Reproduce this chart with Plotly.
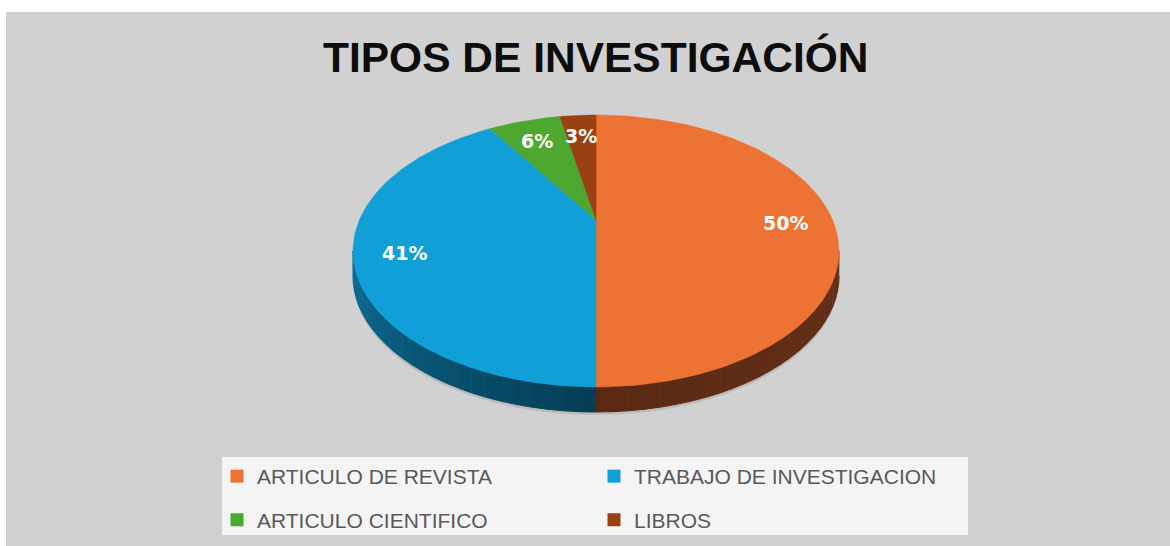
import numpy as np
import plotly.graph_objects as go

# ---------------- data ----------------
title_text = "TIPOS DE INVESTIGACIÓN"
categories = ["ARTICULO DE REVISTA", "TRABAJO DE INVESTIGACION", "ARTICULO CIENTIFICO", "LIBROS"]
values = [50, 41, 6, 3]  # percent

# ---------------- style ----------------
colors = ["#EC7333", "#10A0D7", "#4EA72E", "#9A4114"]
side_colors = [("#66301A", "#5A2912"), ("#053D55", "#0C6F98"), ("#2D6A1A", "#2D6A1A"), ("#5A250B", "#5A250B")]
W, H = 1170, 546
ML, MT = 6, 12
BG = "#D1D1D1"
# outline ellipse (screen px): centre x, centre y, half width, half height; extrusion depth
CX, EY, EW, EH, DEPTH = 596, 251, 243, 136, 25
K = 0.23  # perspective strength
A = EW * np.sqrt(1 - K ** 2)
B = EH * (1 - K ** 2)
YC = EY - EH * K  # projected disk centre


def px2paper(x, y):
    return (x - ML) / (W - ML), 1 - (y - MT) / (H - MT)


def proj(X, Z, dy=0.0):
    d = 1 + K * Z
    return CX + A * X / d, YC - B * Z / d + dy


def pt(theta_deg, dy=0.0, r=1.0):
    t = np.radians(theta_deg)
    return proj(r * np.sin(t), r * np.cos(t), dy)


def hex2rgb(h):
    h = h.lstrip("#")
    return [int(h[i:i + 2], 16) for i in (0, 2, 4)]


def mix(c1, c2, f):
    a, b = hex2rgb(c1), hex2rgb(c2)
    return "rgb({},{},{})".format(*[round(a[i] + (b[i] - a[i]) * f) for i in range(3)])


total = float(sum(values))
bounds = np.concatenate([[0.0], np.cumsum(values) / total * 360.0])
sil = np.degrees(np.arccos(-K))  # silhouette angle (right); left is 360 - sil

fig = go.Figure()

# soft shadow under the pie
ts = np.linspace(0, 360, 181)
sx, sy = pt(ts, DEPTH + 3)
fig.add_trace(go.Scatter(x=sx, y=sy, fill="toself", mode="lines",
                         line=dict(width=0, color="rgba(0,0,0,0)"),
                         fillcolor="rgba(0,0,0,0.10)", hoverinfo="skip", showlegend=False))

# sides (front part only)
for i, v in enumerate(values):
    a1, a2 = bounds[i], bounds[i + 1]
    lo, hi = max(a1, sil), min(a2, 360 - sil)
    if lo >= hi:
        continue
    n = max(1, int((hi - lo) / 3))
    edges = np.linspace(lo, hi, n + 1)
    for k in range(n):
        s, e = edges[k], edges[k + 1]
        tt = np.linspace(s, e, 6)
        tx, ty = pt(tt)
        bx, by = pt(tt[::-1], DEPTH)
        col = mix(side_colors[i][0], side_colors[i][1], (k + 0.5) / n)
        fig.add_trace(go.Scatter(x=np.concatenate([tx, bx]), y=np.concatenate([ty, by]),
                                 fill="toself", mode="lines", line=dict(width=1, color=col),
                                 fillcolor=col, hoverinfo="skip", showlegend=False))

# top faces
for i, v in enumerate(values):
    a1, a2 = bounds[i], bounds[i + 1]
    tt = np.linspace(a1, a2, max(3, int(a2 - a1) + 2))
    tx, ty = pt(tt)
    cx0, cy0 = proj(0.0, 0.0)
    fig.add_trace(go.Scatter(x=np.concatenate([[cx0], tx, [cx0]]), y=np.concatenate([[cy0], ty, [cy0]]),
                             fill="toself", mode="lines", line=dict(width=0.5, color=colors[i]),
                             fillcolor=colors[i], name=categories[i],
                             hovertemplate=categories[i] + ": %{text}<extra></extra>",
                             text=[f"{v}%"] * (len(tx) + 2), showlegend=False))

# data labels
for i, v in enumerate(values):
    mid = (bounds[i] + bounds[i + 1]) / 2
    lx, ly = pt(mid, 3, r=0.8)
    fig.add_annotation(x=lx, y=ly, text=f"{v}%", showarrow=False,
                       font=dict(family="DejaVu Sans", size=19, color="white", weight="bold"),
                       xanchor="center", yanchor="middle")

# legend entries (two legends -> two rows)
for i, c in enumerate(categories):
    fig.add_trace(go.Scatter(x=[None], y=[None], mode="markers", name=c,
                             marker=dict(symbol="square", size=13, color=colors[i]),
                             legend="legend" if i < 2 else "legend2", showlegend=True))

legend_common = dict(orientation="h", xref="paper", yref="paper",
                     xanchor="left", yanchor="middle", bgcolor="rgba(0,0,0,0)",
                     font=dict(family="Arial", size=21, color="#595959"),
                     entrywidth=332, entrywidthmode="pixels", itemclick=False, itemdoubleclick=False)

l1x, l1y = px2paper(217, 476.5)
l2x, l2y = px2paper(217, 520)
tx_, ty_ = px2paper(595.5, 57)

fig.update_layout(
    width=W, height=H,
    paper_bgcolor="white", plot_bgcolor=BG,
    margin=dict(l=ML, r=0, t=MT, b=0, autoexpand=False),
    xaxis=dict(range=[ML, W], visible=False, fixedrange=True),
    yaxis=dict(range=[H, MT], visible=False, fixedrange=True),
    annotations=list(fig.layout.annotations) + [
        dict(text=title_text, x=tx_, y=ty_, xref="paper", yref="paper", showarrow=False,
             xanchor="center", yanchor="middle",
             font=dict(family="Arial", size=42.5, color="#0D0D0D", weight="bold"))],
    legend=dict(x=l1x, y=l1y, **legend_common),
    legend2=dict(x=l2x, y=l2y, **legend_common),
    shapes=[dict(type="rect", xref="x", yref="y", x0=222, x1=968, y0=457, y1=535,
                 fillcolor="#F4F4F4", line=dict(width=0), layer="below")],
    showlegend=True,
)

fig.write_html("out.html", config={"displayModeBar": False},
               post_script="document.body.style.margin='0';document.body.style.overflow='hidden';")
